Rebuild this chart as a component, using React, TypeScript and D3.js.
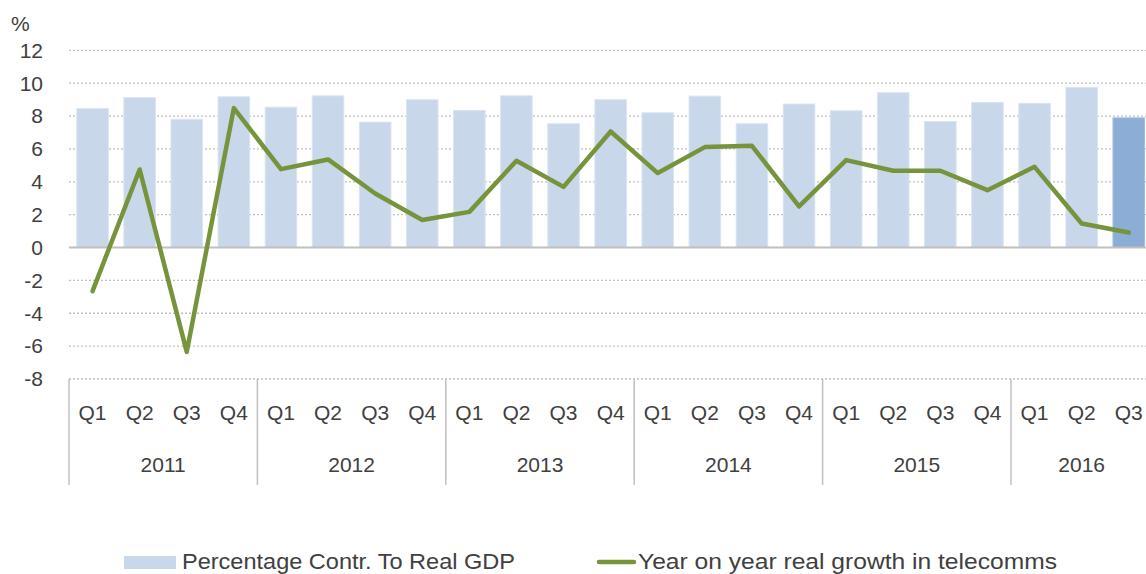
import React from "react";
import * as d3 from "d3";

const quarters = ["Q1","Q2","Q3","Q4","Q1","Q2","Q3","Q4","Q1","Q2","Q3","Q4","Q1","Q2","Q3","Q4","Q1","Q2","Q3","Q4","Q1","Q2","Q3"];
const years = ["2011","2012","2013","2014","2015","2016"];
const yearCounts = [4,4,4,4,4,3];
const gdpShare = [8.45,9.12,7.8,9.17,8.54,9.23,7.63,8.99,8.34,9.23,7.53,8.99,8.2,9.21,7.53,8.73,8.32,9.42,7.67,8.83,8.77,9.74,7.89];
const growth = [-2.65,4.75,-6.35,8.48,4.77,5.36,3.29,1.67,2.17,5.28,3.69,7.06,4.53,6.11,6.19,2.5,5.32,4.67,4.67,3.49,4.91,1.46,0.91];
const yTicks = [-8,-6,-4,-2,0,2,4,6,8,10,12];
const legendBar = "Percentage Contr. To Real GDP";
const legendLine = "Year on year real growth in telecomms";

const W = 1146, H = 574;
const FONT = "'Liberation Sans', Arial, sans-serif";
const TXT = "#404040";

export default function App() {
  const left = 69;
  const step = 47.1;
  const idx = quarters.map((_, i) => i);
  const x = d3.scaleBand<number>().domain(idx).range([left, left + step * quarters.length]).paddingInner(0.33).paddingOuter(0.165);
  const y = d3.scaleLinear().domain([-8, 12]).range([379, 50.3]);
  const cx = (i: number) => (x(i) as number) + x.bandwidth() / 2;
  const line = d3.line<number>().x((_, i) => cx(i)).y((d) => y(d));

  let acc = 0;
  const groups = yearCounts.map((n, k) => {
    const start = acc;
    acc += n;
    const l = left + start * step;
    const r = left + (start + n) * step;
    return { label: years[k], l, r };
  });

  return (
    <svg width={W} height={H} style={{ position: "absolute", left: 0, top: 0 }} fontFamily={FONT}>
      <rect x={0} y={0} width={W} height={H} fill="#fff" />
      {yTicks.filter((t) => t !== 0).map((t) => (
        <line key={t} x1={left} x2={W} y1={y(t)} y2={y(t)} stroke="#bfbfbf" strokeWidth={1.3} strokeDasharray="2,2" />
      ))}
      {gdpShare.map((v, i) => (
        <rect key={i} x={x(i)} y={y(v)} width={x.bandwidth()} height={y(0) - y(v)}
          fill={i === gdpShare.length - 1 ? "#8cadd5" : "#c8d7ea"} stroke={i === gdpShare.length - 1 ? "#a3bedf" : "#dae4f1"} strokeWidth={1} />
      ))}
      <line x1={left} x2={W} y1={y(0)} y2={y(0)} stroke="#c0c0c0" strokeWidth={2} />
      <path d={line(growth) || ""} fill="none" stroke="#77933c" strokeWidth={4.5} strokeLinejoin="round" strokeLinecap="round" />
      {yTicks.map((t) => (
        <text key={t} x={43} y={y(t)} dy="0.35em" textAnchor="end" fontSize={21} fill={TXT}>{t}</text>
      ))}
      <text x={11} y={31} fontSize={21} fill={TXT}>%</text>
      {groups.map((g, k) => (
        <line key={"s" + k} x1={g.l} x2={g.l} y1={379} y2={485} stroke="#c0c0c0" strokeWidth={1.5} />
      ))}
      {quarters.map((q, i) => (
        <text key={"q" + i} x={cx(i)} y={413} dy="0.35em" textAnchor="middle" fontSize={21} fill={TXT}>{q}</text>
      ))}
      {groups.map((g) => (
        <text key={g.label} x={(g.l + g.r) / 2} y={465} dy="0.35em" textAnchor="middle" fontSize={21} fill={TXT}>{g.label}</text>
      ))}
      <rect x={124} y={556} width={52} height={13} fill="#c8d7ea" />
      <text x={182} y={569} fontSize={22} fill={TXT} textLength={333} lengthAdjust="spacingAndGlyphs">{legendBar}</text>
      <line x1={599} x2={634} y1={562} y2={562} stroke="#77933c" strokeWidth={4.5} strokeLinecap="round" />
      <text x={638} y={569} fontSize={22} fill={TXT} textLength={419} lengthAdjust="spacingAndGlyphs">{legendLine}</text>
    </svg>
  );
}
